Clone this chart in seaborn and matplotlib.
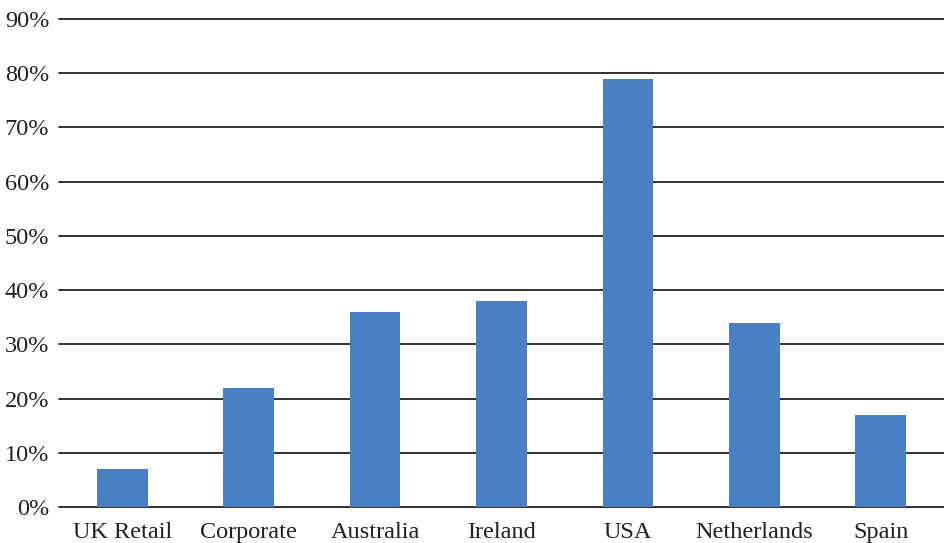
import matplotlib
matplotlib.use("Agg")
import matplotlib.pyplot as plt
import seaborn as sns
import pandas as pd
from matplotlib.ticker import FuncFormatter, MultipleLocator

categories = ["UK Retail", "Corporate", "Australia", "Ireland", "USA", "Netherlands", "Spain"]
values = [7, 22, 36, 38, 79, 34, 17]

df = pd.DataFrame({"category": categories, "value": values})

sns.set_theme(style="white")
plt.rcParams["font.family"] = ["Liberation Serif", "DejaVu Serif"]

fig = plt.figure(figsize=(9.44, 5.43), dpi=100)
ax = fig.add_axes([0.0625, 0.0663, 0.9375, 0.8987])

sns.barplot(data=df, x="category", y="value", color="#4a7fc1", saturation=1,
            width=0.4, linewidth=0, ax=ax, zorder=3)

ax.set_ylim(0, 90)
ax.set_xlim(-0.5, len(categories) - 0.5)
ax.yaxis.set_major_locator(MultipleLocator(10))
ax.yaxis.set_major_formatter(FuncFormatter(lambda v, _: f"{int(v)}%"))
ax.grid(axis="y", color="#231f20", linewidth=1.3, zorder=0)
for gl in ax.get_ygridlines():
    gl.set_clip_on(False)
ax.set_axisbelow(True)
for s in ax.spines.values():
    s.set_visible(False)
ax.tick_params(axis="both", length=0, labelsize=17.5, labelcolor="#231f20")
ax.tick_params(axis="y", pad=7)
ax.tick_params(axis="x", pad=11)
ax.set_xlabel("")
ax.set_ylabel("")

fig.savefig("out.png", dpi=100)
